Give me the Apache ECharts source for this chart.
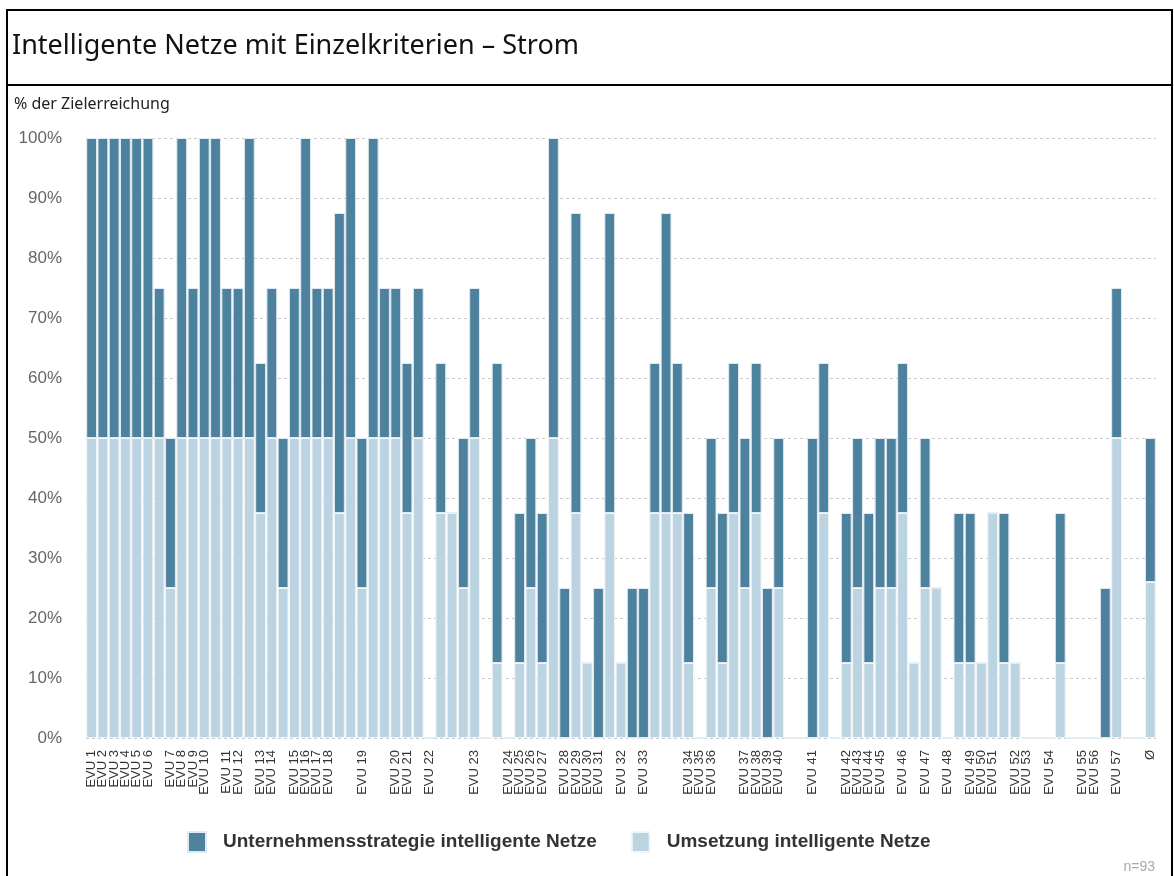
<!DOCTYPE html>
<html>
<head>
<meta charset="utf-8">
<title>Intelligente Netze mit Einzelkriterien - Strom</title>
<script src="https://cdn.jsdelivr.net/npm/echarts@6/dist/echarts.min.js"></script>
<style>
  html, body { margin: 0; padding: 0; background: #fff; }
  #chart { width: 1174px; height: 876px; }
</style>
</head>
<body>
<div id="chart"></div>
<script>
// Kategorien (leere Namen = anonyme EVU)
var labels = [
  "EVU 1", "EVU 2", "EVU 3", "EVU 4", "EVU 5", "EVU 6", "", "EVU 7", "EVU 8", "EVU 9",
  "EVU 10", "", "EVU 11", "EVU 12", "", "EVU 13", "EVU 14", "", "EVU 15", "EVU 16",
  "EVU 17", "EVU 18", "", "", "EVU 19", "", "", "EVU 20", "EVU 21", "",
  "EVU 22", "", "", "", "EVU 23", "", "", "EVU 24", "EVU 25", "EVU 26",
  "EVU 27", "", "EVU 28", "EVU 29", "EVU 30", "EVU 31", "", "EVU 32", "", "EVU 33",
  "", "", "", "EVU 34", "EVU 35", "EVU 36", "", "", "EVU 37", "EVU 38",
  "EVU 39", "EVU 40", "", "", "EVU 41", "", "", "EVU 42", "EVU 43", "EVU 44",
  "EVU 45", "", "EVU 46", "", "EVU 47", "", "EVU 48", "", "EVU 49", "EVU 50",
  "EVU 51", "", "EVU 52", "EVU 53", "", "EVU 54", "", "", "EVU 55", "EVU 56",
  "", "EVU 57", "", "", "\u00d8"
];

// Umsetzung intelligente Netze (heller Teil, unten)
var umsetzung = [
  50, 50, 50, 50, 50, 50, 50, 25, 50, 50,
  50, 50, 50, 50, 50, 37.5, 50, 25, 50, 50,
  50, 50, 37.5, 50, 25, 50, 50, 50, 37.5, 50,
  0, 37.5, 37.5, 25, 50, 0, 12.5, 0, 12.5, 25,
  12.5, 50, 0, 37.5, 12.5, 0, 37.5, 12.5, 0, 0,
  37.5, 37.5, 37.5, 12.5, 0, 25, 12.5, 37.5, 25, 37.5,
  0, 25, 0, 0, 0, 37.5, 0, 12.5, 25, 12.5,
  25, 25, 37.5, 12.5, 25, 25, 0, 12.5, 12.5, 12.5,
  37.5, 12.5, 12.5, 0, 0, 0, 12.5, 0, 0, 0,
  0, 50, 0, 0, 26
];

// Unternehmensstrategie intelligente Netze (dunkler Teil, oben)
var strategie = [
  50, 50, 50, 50, 50, 50, 25, 25, 50, 25,
  50, 50, 25, 25, 50, 25, 25, 25, 25, 50,
  25, 25, 50, 50, 25, 50, 25, 25, 25, 25,
  0, 25, 0, 25, 25, 0, 50, 0, 25, 25,
  25, 50, 25, 50, 0, 25, 50, 0, 25, 25,
  25, 50, 25, 25, 0, 25, 25, 25, 25, 25,
  25, 25, 0, 0, 50, 25, 0, 25, 25, 25,
  25, 25, 25, 0, 25, 0, 0, 25, 25, 0,
  0, 25, 0, 0, 0, 0, 25, 0, 0, 0,
  25, 25, 0, 0, 24
];

var yTicks = [0, 10, 20, 30, 40, 50, 60, 70, 80, 90, 100];

var nameStrategie = "Unternehmensstrategie intelligente Netze";
var nameUmsetzung = "Umsetzung intelligente Netze";

var myChart = echarts.init(document.getElementById("chart"));

var option = {
  animation: false,
  color: ["#bcd4e1", "#4d829e"],
  title: [
    {
      text: "Intelligente Netze mit Einzelkriterien \u2013 Strom",
      left: 7,
      top: 28,
      textStyle: { fontFamily: "Noto Sans", fontSize: 27, fontWeight: "normal", color: "#111" }
    },
    {
      text: "% der Zielerreichung",
      left: 9,
      top: 91,
      textStyle: { fontFamily: "Noto Sans", fontSize: 16, fontWeight: "normal", color: "#222" }
    }
  ],
  graphic: [
    {
      type: "rect",
      shape: { x: 7, y: 10, width: 1165, height: 900 },
      style: { fill: "none", stroke: "#000", lineWidth: 2 },
      silent: true
    },
    {
      type: "line",
      shape: { x1: 7, y1: 85, x2: 1172, y2: 85 },
      style: { stroke: "#000", lineWidth: 2 },
      silent: true
    },
    {
      type: "text",
      right: 19,
      top: 860,
      style: { text: "n=93", fill: "#aaa", font: "14px 'Liberation Sans'" },
      silent: true
    }
  ],
  legend: {
    data: [nameStrategie, nameUmsetzung],
    left: 182,
    top: 826,
    itemWidth: 18,
    itemHeight: 20,
    itemGap: 34,
    icon: "rect",
    textStyle: {
      fontFamily: "Liberation Sans",
      fontSize: 19,
      fontWeight: "bold",
      color: "#333",
      padding: [0, 0, 0, 12]
    }
  },
  grid: {
    left: 86,
    right: 18,
    top: 138,
    bottom: 138,
    outerBoundsMode: "none"
  },
  xAxis: {
    type: "category",
    data: labels,
    axisLine: { show: false },
    axisTick: { show: false },
    axisLabel: {
      interval: 0,
      rotate: 90,
      margin: 12,
      fontFamily: "Liberation Sans",
      fontSize: 13,
      color: "#333"
    }
  },
  yAxis: {
    type: "value",
    min: yTicks[0],
    max: yTicks[yTicks.length - 1],
    interval: 10,
    axisLine: { show: false },
    axisTick: { show: false },
    axisLabel: {
      margin: 24,
      formatter: "{value}%",
      fontFamily: "Liberation Sans",
      fontSize: 17,
      color: "#666"
    },
    splitLine: {
      lineStyle: { color: "#c8c8c8", type: [3, 3], width: 1 }
    }
  },
  series: [
    {
      name: nameUmsetzung,
      type: "bar",
      stack: "gesamt",
      data: umsetzung,
      barCategoryGap: "4%",
      itemStyle: { color: "#bcd4e1", borderColor: "#f2f6f9", borderWidth: 1 }
    },
    {
      name: nameStrategie,
      type: "bar",
      stack: "gesamt",
      data: strategie,
      barCategoryGap: "4%",
      itemStyle: { color: "#4d829e", borderColor: "#dfe9ef", borderWidth: 1 }
    }
  ]
};

myChart.setOption(option);

window.addEventListener("resize", function () {
  myChart.resize();
});
</script>
</body>
</html>
